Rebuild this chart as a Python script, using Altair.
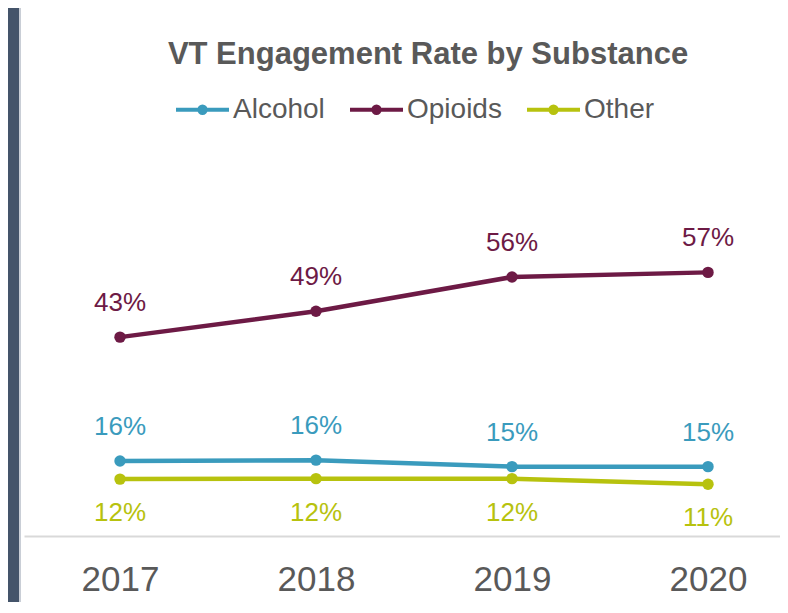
import altair as alt
import pandas as pd

years = [2017, 2018, 2019, 2020]
alcohol = [0.162, 0.164, 0.15, 0.15]
opioids = [0.43, 0.486, 0.56, 0.57]
other = [0.123, 0.124, 0.124, 0.112]
series_names = ["Alcohol", "Opioids", "Other"]
series_colors = ["#3a9bbd", "#6d1a45", "#b7c20e"]

rows = []
for name, vals in zip(series_names, [alcohol, opioids, other]):
    for yr, v in zip(years, vals):
        rows.append({"Year": yr, "Series": name, "Rate": v})
df = pd.DataFrame(rows)

W, H = 756, 370
PAD_L, PAD_T, PAD_B = 16, 158, 66

x = alt.X(
    "Year:Q",
    scale=alt.Scale(domain=[2016.5102, 2020.3673], nice=False, zero=False),
    axis=alt.Axis(values=years, format="d", title=None, ticks=False, tickSize=0, grid=False,
                  domain=True, domainColor="#d9d9d9", domainWidth=2,
                  labelFont="Liberation Sans", labelFontSize=35, labelColor="#595959",
                  labelPadding=26),
)
y = alt.Y("Rate:Q", scale=alt.Scale(domain=[0, 0.8], nice=False), axis=None)

symbol_path = "M-1,0L1,0M-0.12,0A0.12,0.12,0,1,1,0.12,0A0.12,0.12,0,1,1,-0.12,0Z"
color = alt.Color(
    "Series:N",
    scale=alt.Scale(domain=series_names, range=series_colors),
    legend=alt.Legend(
        title=None, orient="none", direction="horizontal", legendX=150, legendY=-85,
        symbolType=symbol_path, symbolSize=2809, symbolStrokeWidth=4,
        labelFont="Liberation Sans", labelFontSize=28, labelColor="#595959",
        labelOffset=2, columnPadding=17, padding=0, symbolOffset=0,
    ),
)

base = alt.Chart(df).encode(x=x, y=y, color=color)

lines = base.mark_line(strokeWidth=4.5)
points = base.mark_circle(size=130, opacity=1)
labels_above = base.transform_filter(alt.datum.Series != "Other").mark_text(
    dy=-34, baseline="middle", font="Liberation Sans", fontSize=26
).encode(text=alt.Text("Rate:Q", format=".0%"))
labels_below = base.transform_filter(alt.datum.Series == "Other").mark_text(
    dy=34, baseline="middle", font="Liberation Sans", fontSize=26
).encode(text=alt.Text("Rate:Q", format=".0%"))

frame = pd.DataFrame({"k": [0]})
dark_strip = alt.Chart(frame).mark_rect(color="#44546a").encode(
    x=alt.value(-PAD_L), x2=alt.value(-5), y=alt.value(-PAD_T), y2=alt.value(H + PAD_B)
)
light_edge = alt.Chart(frame).mark_rect(color="#c9ced6").encode(
    x=alt.value(-5), x2=alt.value(-3), y=alt.value(-PAD_T), y2=alt.value(H + PAD_B)
)

chart = alt.layer(dark_strip, light_edge, lines, points, labels_above, labels_below).properties(
    width=W,
    height=H,
    autosize=alt.AutoSizeParams(type="none"),
    padding={"left": PAD_L, "top": PAD_T, "right": 0, "bottom": PAD_B},
    title=alt.Title(
        "VT Engagement Rate by Substance", font="Liberation Sans", fontSize=31,
        fontWeight="bold", color="#595959", anchor="middle", dx=26,
        offset=0, dy=87, baseline="alphabetic",
    ),
    background="white",
).configure_view(stroke=None)

chart.save("out.html", embed_options={"renderer": "svg", "actions": False})
